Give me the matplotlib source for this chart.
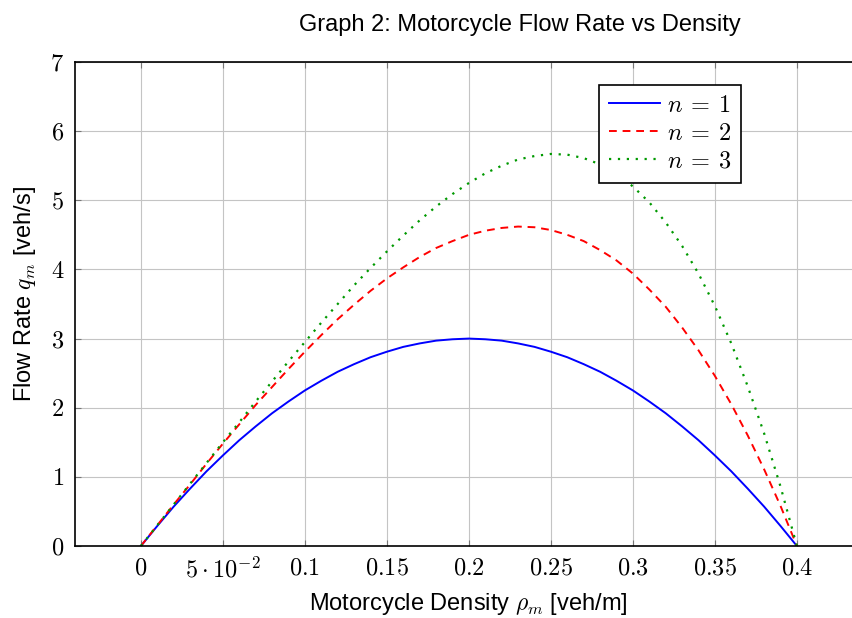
import matplotlib
matplotlib.use("Agg")
import matplotlib.pyplot as plt
from matplotlib.ticker import FixedLocator, FuncFormatter

plt.rcParams['mathtext.fontset'] = 'cm'
plt.rcParams['font.family'] = ['Liberation Sans', 'DejaVu Sans']

density = [0.00, 0.01, 0.02, 0.03, 0.04, 0.05, 0.06, 0.07, 0.08, 0.09,
           0.10, 0.11, 0.12, 0.13, 0.14, 0.15, 0.16, 0.17, 0.18, 0.19,
           0.20, 0.21, 0.22, 0.23, 0.24, 0.25, 0.26, 0.27, 0.28, 0.29,
           0.30, 0.31, 0.32, 0.33, 0.34, 0.35, 0.36, 0.37, 0.38, 0.39, 0.40]

flow_n1 = [0.00, 0.29, 0.57, 0.83, 1.08, 1.31, 1.53, 1.73, 1.92, 2.09,
           2.25, 2.39, 2.52, 2.63, 2.73, 2.81, 2.88, 2.93, 2.97, 2.99,
           3.00, 2.99, 2.97, 2.93, 2.88, 2.81, 2.73, 2.63, 2.52, 2.39,
           2.25, 2.09, 1.92, 1.73, 1.53, 1.31, 1.08, 0.83, 0.57, 0.29, 0.00]

flow_n2 = [0.00, 0.30, 0.60, 0.89, 1.19, 1.48, 1.76, 2.04, 2.30, 2.56,
           2.81, 3.05, 3.28, 3.49, 3.69, 3.87, 4.03, 4.18, 4.31, 4.41,
           4.50, 4.56, 4.60, 4.62, 4.61, 4.57, 4.50, 4.41, 4.28, 4.13,
           3.94, 3.71, 3.46, 3.16, 2.83, 2.46, 2.05, 1.60, 1.11, 0.58, 0.00]

flow_n3 = [0.00, 0.30, 0.60, 0.90, 1.20, 1.50, 1.79, 2.09, 2.38, 2.67,
           2.95, 3.23, 3.50, 3.77, 4.02, 4.26, 4.49, 4.71, 4.91, 5.09,
           5.25, 5.39, 5.50, 5.59, 5.64, 5.67, 5.66, 5.61, 5.52, 5.38,
           5.20, 4.97, 4.68, 4.34, 3.94, 3.47, 2.93, 2.31, 1.63, 0.86, 0.00]

x_ticks = [0, 0.05, 0.1, 0.15, 0.2, 0.25, 0.3, 0.35, 0.4]
x_tick_labels = ['0', r'5\cdot10^{-2}', '0.1', '0.15', '0.2', '0.25', '0.3', '0.35', '0.4']
y_ticks = [0, 1, 2, 3, 4, 5, 6, 7]

W, H = 853, 618
fig = plt.figure(figsize=(W / 100, H / 100), dpi=100)
left, right, top, bottom = 75.3, 862.5, 62, 546
ax = fig.add_axes([left / W, (H - bottom) / H, (right - left) / W, (bottom - top) / H])

ax.plot(density, flow_n1, color='blue', lw=1.4, ls='-', label=r'$n\:=\:1$')
ax.plot(density, flow_n2, color='red', lw=1.4, ls=(0, (4, 3)), label=r'$n\:=\:2$')
ax.plot(density, flow_n3, color='#009900', lw=1.6, ls=(0, (1, 3)), label=r'$n\:=\:3$')

ax.set_xlim(-0.04, 0.44)
ax.set_ylim(0, 7)
ax.xaxis.set_major_locator(FixedLocator(x_ticks))
ax.yaxis.set_major_locator(FixedLocator(y_ticks))
ax.xaxis.set_major_formatter(FuncFormatter(lambda v, p: '$' + x_tick_labels[p] + '$' if p is not None and p < len(x_tick_labels) else ''))
ax.yaxis.set_major_formatter(FuncFormatter(lambda v, p: '$%d$' % round(v)))
ax.grid(True, color='#c4c4c4', lw=0.8)
ax.set_axisbelow(True)
ax.tick_params(direction='in', length=4, width=0.8, color='#777777', labelsize=17.5,
               top=True, right=True, pad=8)
for s in ax.spines.values():
    s.set_linewidth(1.2)
    s.set_color('black')

leg = ax.legend(loc='upper left', bbox_to_anchor=((599 - left) / (right - left), 1 - (85 - top) / (bottom - top)),
                fontsize=17.5, frameon=True, fancybox=False, edgecolor='black',
                framealpha=1, borderpad=0.4, labelspacing=0.25, handlelength=2.1,
                handletextpad=0.3, borderaxespad=0)
leg.get_frame().set_linewidth(1.2)

fig.text(520 / W, 1 - 25 / H, 'Graph 2: Motorcycle Flow Rate vs Density', ha='center', va='center', fontsize=17)
fig.text(468 / W, 1 - 604 / H, r'Motorcycle Density $\rho_m$ [veh/m]', ha='center', va='center', fontsize=17)
fig.text(25 / W, 1 - 294 / H, r'Flow Rate $q_m$ [veh/s]', ha='center', va='center', fontsize=17, rotation=90)

fig.savefig('out.png', dpi=100)
